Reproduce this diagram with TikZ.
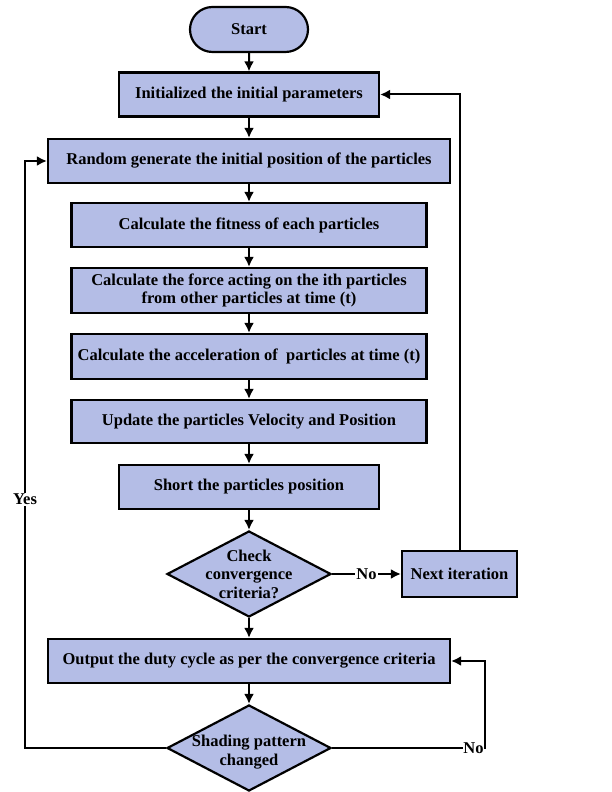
\documentclass[tikz,border=0pt]{standalone}
\usepackage{fontspec}
\setmainfont{Liberation Serif}
\usepackage{xcolor}
\usetikzlibrary{arrows.meta, positioning, shapes.geometric, shapes.misc}
\definecolor{flowfill}{HTML}{B4BDE6}

\begin{document}
\begin{tikzpicture}[>={Latex[length=10pt,width=10pt]}, x=1pt, y=1pt,
  flowfont/.style={font=\fontsize{16.5}{18.5}\selectfont\bfseries},
  box/.style={draw, line width=2.2pt, fill=flowfill, flowfont, align=center,
    inner sep=0pt, minimum height=44pt},
  term/.style={box, rounded rectangle, minimum width=118pt, minimum height=45pt},
  decision/.style={draw, line width=2.2pt, fill=flowfill, diamond,
    minimum width=164pt, minimum height=86pt, inner sep=0pt},
  dlabel/.style={flowfont, align=center},
  flow/.style={->, line width=2pt},
  tag/.style={flowfont, fill=white, inner sep=1pt}]

  \useasboundingbox (0,0) rectangle (611,792);

  % Main column
  \node[term] (start) at (249,762.5) {Start};
  \node[box, minimum width=260pt] (init) at (249,697.5) {Initialized the initial parameters};
  \node[box, minimum width=402pt] (random) at (249,631) {Random generate the initial position of the particles};
  \node[box, minimum width=355pt] (fitness) at (249,567) {Calculate the fitness of each particles};
  \node[box, minimum width=355pt, minimum height=45pt] (force) at (249,501.5)
    {Calculate the force acting on the ith particles\\from other particles at time (t)};
  \node[box, minimum width=355pt, minimum height=45pt] (accel) at (249,435.5)
    {Calculate the acceleration of\ \ particles at time (t)};
  \node[box, minimum width=355pt, minimum height=43pt] (update) at (249,370.5)
    {Update the particles Velocity and Position};
  \node[box, minimum width=260pt] (short) at (249,305) {Short the particles position};
  \node[decision, label={[dlabel]center:Check\\convergence\\criteria?}] (check) at (249,218) {};
  \node[box, minimum width=115pt, minimum height=46pt] (next) at (459.5,218) {Next iteration};
  \node[box, minimum width=402pt] (output) at (249,131)
    {Output the duty cycle as per the convergence criteria};
  \node[decision, label={[dlabel, yshift=-4pt]center:Shading pattern\\changed}] (shading) at (249,44) {};

  % Turning points of the loops
  \coordinate (yesturn) at (25,44);
  \coordinate (noturn) at (485,44);

  % Forward arrows
  \draw[flow] (start) -- (init);
  \draw[flow] (init) -- (random);
  \draw[flow] (random) -- (fitness);
  \draw[flow] (fitness) -- (force);
  \draw[flow] (force) -- (accel);
  \draw[flow] (accel) -- (update);
  \draw[flow] (update) -- (short);
  \draw[flow] (short) -- (check);
  \draw[flow] (check) -- (output);
  \draw[flow] (output) -- (shading);

  % Loops
  \draw[flow] (check) -- node[tag] {No} (next);
  \draw[flow] (next.north) |- (init.east);
  \draw[flow] (shading.west) -- (yesturn)
    -- node[tag, pos=0.424] {Yes} (yesturn |- random.west) -- (random.west);
  \draw[flow] (shading.east) -- node[tag, pos=1, anchor=east, inner sep=0.5pt] {No} (noturn)
    |- (output.east);
\end{tikzpicture}
\end{document}
